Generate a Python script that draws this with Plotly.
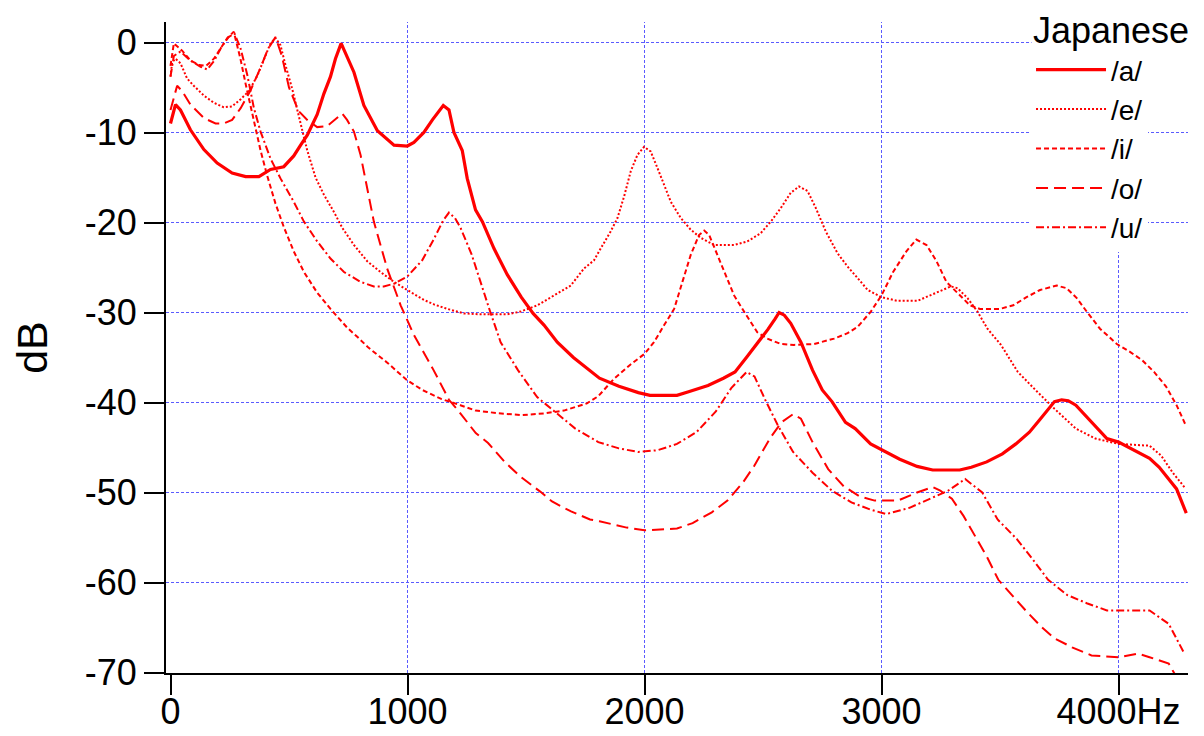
import plotly.graph_objects as go

# /a/ solid
a_hz = [0, 21, 42, 84, 141, 197, 260, 317, 373, 422, 478, 520, 549, 577, 619, 647, 675, 696, 720, 745,
        774, 816, 873, 943, 999, 1027, 1069, 1105, 1151, 1175, 1196, 1231, 1252, 1287, 1316, 1365, 1421, 1480,
        1530, 1576, 1632, 1700, 1760, 1810, 1892, 1974, 2023, 2080, 2137, 2186, 2268, 2333, 2382, 2430, 2480,
        2520, 2551, 2568, 2590, 2617, 2660, 2709, 2750, 2791, 2848, 2889, 2954, 3020, 3077, 3150, 3216, 3330,
        3379, 3444, 3510, 3567, 3624, 3665, 3730, 3760, 3788, 3820, 3886, 3951, 4000, 4065, 4131, 4172, 4245, 4286]
a_db = [-9.0, -6.9, -7.5, -9.7, -11.9, -13.4, -14.5, -14.9, -14.9, -14.1, -13.8, -12.6, -11.4, -10.3, -8.0,
        -5.7, -3.8, -1.8, -0.1, -1.6, -3.3, -7.0, -9.8, -11.4, -11.5, -11.1, -10.0, -8.6, -7.0, -7.5, -10.0,
        -12.0, -15.1, -18.6, -19.9, -22.9, -25.8, -28.3, -30.1, -31.4, -33.3, -35.0, -36.3, -37.3, -38.2, -38.9,
        -39.2, -39.2, -39.2, -38.8, -38.1, -37.3, -36.6, -35.0, -33.3, -31.9, -30.7, -30.0, -30.3, -31.2, -33.3,
        -36.4, -38.6, -39.9, -42.2, -42.9, -44.6, -45.5, -46.3, -47.1, -47.5, -47.5, -47.2, -46.6, -45.7, -44.6,
        -43.3, -42.0, -39.9, -39.7, -39.8, -40.3, -42.2, -44.0, -44.4, -45.3, -46.2, -47.2, -49.6, -52.3]

# /e/ dotted
e_hz = [0, 7, 21, 42, 70, 98, 141, 183, 225, 260, 296, 331, 366, 394, 422, 443, 464, 485, 514, 549, 577, 612,
        647, 689, 725, 774, 830, 886, 943, 999, 1069, 1112, 1168, 1238, 1309, 1421, 1477, 1548, 1618, 1689, 1745,
        1787, 1815, 1857, 1886, 1914, 1942, 1970, 1998, 2026, 2054, 2083, 2111, 2153, 2195, 2237, 2294, 2378,
        2434, 2490, 2533, 2575, 2617, 2652, 2688, 2723, 2765, 2814, 2857, 2900, 2942, 3000, 3066, 3152, 3222,
        3293, 3321, 3363, 3405, 3447, 3504, 3575, 3657, 3730, 3820, 3902, 4000, 4131, 4180, 4229, 4278]
e_db = [-3.8, -2.2, -1.8, -2.3, -4.0, -4.8, -5.9, -6.7, -7.2, -7.1, -6.3, -5.4, -3.7, -1.8, -0.1, 0.5, -0.3,
        -2.5, -5.2, -9.0, -12.0, -15.0, -16.9, -18.8, -20.6, -22.5, -24.3, -25.5, -26.6, -27.5, -28.6, -29.1,
        -29.6, -30.1, -30.2, -30.2, -29.9, -29.2, -28.1, -27.0, -25.1, -24.2, -22.9, -21.0, -19.5, -17.1, -14.3,
        -12.5, -11.6, -12.1, -13.9, -15.8, -17.7, -19.5, -20.8, -21.7, -22.5, -22.5, -22.1, -21.2, -19.9, -18.4,
        -16.7, -16.0, -16.5, -18.4, -21.0, -23.4, -24.9, -26.2, -27.5, -28.3, -28.7, -28.7, -27.9, -27.1, -27.3,
        -28.4, -29.9, -31.8, -33.6, -36.6, -38.8, -40.7, -42.9, -44.0, -44.6, -44.8, -45.9, -47.8, -49.4]

# /i/ short dash
i_hz = [0, 14, 49, 84, 120, 150, 183, 212, 240, 267, 295, 317, 338, 359, 380, 408, 443, 478, 520, 563, 619,
        675, 746, 788, 835, 916, 997, 1062, 1142, 1223, 1288, 1385, 1482, 1580, 1660, 1757, 1805, 1870, 1940,
        2000, 2040, 2083, 2125, 2160, 2195, 2230, 2252, 2273, 2301, 2336, 2378, 2420, 2476, 2518, 2575, 2631,
        2716, 2800, 2857, 2899, 2955, 3000, 3049, 3105, 3147, 3190, 3232, 3274, 3317, 3373, 3415, 3500, 3556,
        3612, 3669, 3739, 3781, 3824, 3866, 3922, 3993, 4050, 4100, 4150, 4200, 4245, 4285]
i_db = [-2.6, -0.1, -0.9, -2.0, -2.5, -2.6, -1.8, -0.6, 0.5, 1.2, -1.8, -4.6, -7.2, -9.6, -12.0, -14.8, -17.9,
        -20.5, -23.2, -25.5, -27.8, -29.6, -31.7, -32.7, -33.9, -35.6, -37.5, -38.6, -39.6, -40.3, -40.9, -41.2,
        -41.4, -41.2, -40.9, -40.1, -39.3, -37.4, -35.8, -34.6, -33.3, -31.4, -29.6, -26.6, -23.6, -21.4, -20.9,
        -21.4, -23.2, -25.5, -28.1, -29.9, -32.2, -32.9, -33.5, -33.6, -33.5, -32.9, -32.3, -31.6, -29.9, -28.1,
        -25.5, -23.2, -21.9, -22.5, -24.3, -26.6, -27.7, -29.2, -29.6, -29.6, -29.2, -28.3, -27.5, -27.0, -27.3,
        -28.4, -29.9, -31.8, -33.5, -34.4, -35.3, -36.6, -38.2, -40.3, -42.6]

# /o/ long dash
o_hz = [0, 28, 49, 84, 141, 190, 225, 260, 296, 338, 380, 410, 443, 470, 500, 540, 577, 619, 660, 700, 725,
        745, 774, 802, 858, 914, 971, 1027, 1110, 1175, 1223, 1288, 1340, 1410, 1475, 1560, 1610, 1660, 1690,
        1770, 1810, 1925, 2000, 2137, 2203, 2284, 2350, 2415, 2464, 2529, 2578, 2627, 2660, 2709, 2775, 2840,
        2905, 2971, 3069, 3150, 3216, 3248, 3297, 3346, 3395, 3444, 3493, 3542, 3608, 3673, 3730, 3804, 3886,
        4000, 4083, 4131, 4212, 4240]
o_db = [-7.5, -4.8, -5.4, -6.9, -8.4, -9.0, -9.0, -8.6, -7.3, -5.3, -2.8, -0.8, 0.6, -1.5, -5.0, -7.6, -8.6,
        -9.4, -9.3, -8.5, -7.9, -8.6, -9.9, -12.5, -19.9, -25.1, -29.2, -32.5, -36.4, -39.7, -41.2, -43.4, -44.5,
        -46.6, -48.2, -49.9, -51.0, -51.7, -52.1, -53.0, -53.2, -53.9, -54.2, -54.0, -53.4, -52.2, -50.9, -48.9,
        -47.0, -44.0, -42.2, -41.3, -41.8, -44.4, -47.4, -49.3, -50.4, -50.9, -50.9, -50.0, -49.4, -49.8, -50.7,
        -52.6, -54.9, -57.1, -59.7, -61.2, -63.1, -64.9, -66.2, -67.2, -68.1, -68.3, -67.9, -68.3, -69.0, -70.3]

# /u/ dash-dot
u_hz = [0, 14, 42, 84, 127, 155, 185, 215, 245, 270, 295, 324, 352, 380, 422, 464, 520, 563, 619, 675, 732,
        802, 858, 900, 943, 999, 1062, 1110, 1150, 1175, 1200, 1224, 1270, 1309, 1350, 1393, 1466, 1547, 1628,
        1708, 1805, 1892, 1974, 2056, 2137, 2219, 2301, 2366, 2431, 2464, 2513, 2562, 2627, 2709, 2791, 2873,
        2954, 3020, 3118, 3216, 3281, 3353, 3425, 3490, 3572, 3640, 3703, 3784, 3866, 3951, 4131, 4212, 4278]
u_db = [-3.8, -1.5, -1.0, -2.0, -2.7, -3.0, -2.0, -0.5, 0.6, 1.0, -0.6, -3.6, -7.3, -9.9, -12.9, -15.1, -17.7,
        -19.9, -22.1, -24.0, -25.5, -26.6, -27.1, -27.1, -26.8, -26.0, -24.2, -21.9, -19.8, -18.9, -19.5, -20.6,
        -23.5, -26.7, -30.0, -33.3, -36.4, -39.4, -41.2, -42.9, -44.4, -45.1, -45.5, -45.3, -44.6, -43.3, -41.0,
        -38.4, -36.6, -37.1, -39.9, -42.5, -45.5, -47.8, -49.8, -51.1, -51.9, -52.4, -51.7, -50.6, -49.8, -48.5,
        -50.0, -53.0, -55.2, -57.5, -59.7, -61.4, -62.3, -63.1, -63.1, -64.6, -67.9]

x_ticks = [0, 1000, 2000, 3000, 4000]
x_ticktext = ['0', '1000', '2000', '3000', '4000Hz']
y_ticks = [0, -10, -20, -30, -40, -50, -60, -70]
y_ticktext = ['0', '-10', '-20', '-30', '-40', '-50', '-60', '-70']
x_grid = [1000, 2000, 3000, 4000]
y_grid = [0, -10, -20, -30, -40, -50, -60]

FONT = 'Arial, Liberation Sans, sans-serif'
RED = '#ff0000'
GRID = '#5a5aff'

vowels = [
    ('/a/', a_hz, a_db, 'solid', 3.2),
    ('/e/', e_hz, e_db, '2px,2px', 2),
    ('/i/', i_hz, i_db, '5px,3px', 2),
    ('/o/', o_hz, o_db, '12px,6px', 2),
    ('/u/', u_hz, u_db, '8px,3px,2px,3px', 2),
]

fig = go.Figure()
for name, hz, db, dash, w in vowels:
    fig.add_trace(go.Scatter(x=hz, y=db, name=name, mode='lines', hoverinfo='skip',
                             line=dict(color=RED, width=w, dash=dash)))

# dotted blue grid, none on the axes themselves
for gx in x_grid:
    fig.add_shape(type='line', xref='x', yref='paper', x0=gx, x1=gx, y0=0, y1=1,
                  line=dict(color=GRID, width=1, dash='3px,2px'), layer='below')
for gy in y_grid:
    fig.add_shape(type='line', xref='paper', yref='y', x0=0, x1=1, y0=gy, y1=gy,
                  line=dict(color=GRID, width=1, dash='3px,2px'), layer='below')

# legend heading as its own text so the entries can sit close under it
fig.add_annotation(text='Japanese', xref='paper', yref='paper', x=0.8464, y=0.9877,
                   xanchor='left', yanchor='middle', showarrow=False, bgcolor='white',
                   font=dict(size=36))

fig.update_layout(
    width=1204, height=736,
    margin=dict(l=166, r=16, t=22, b=63, autoexpand=False),
    paper_bgcolor='white', plot_bgcolor='white',
    font=dict(family=FONT, size=36, color='black'),
    hovermode=False,
    showlegend=True,
    legend=dict(
        x=0.8464, y=0.9647, xanchor='left', yanchor='top',
        bgcolor='white', borderwidth=0,
        font=dict(size=28), itemwidth=70, tracegroupgap=0,
    ),
)
# ranges picked so 10 dB = 90 px and 1000 Hz = 237 px, grid on pixel centres
fig.update_xaxes(range=[-18.99, 4293.25], tickvals=x_ticks, ticktext=x_ticktext, automargin=False,
                 showgrid=False, zeroline=False, showline=True, linecolor='black', linewidth=2,
                 ticks='outside', ticklen=20, tickwidth=2, tickcolor='black', ticklabelstandoff=-14)
fig.update_yaxes(range=[-70.056, 2.278], tickvals=y_ticks, ticktext=y_ticktext, automargin=False,
                 showgrid=False, zeroline=False, showline=True, linecolor='black', linewidth=2,
                 ticks='outside', ticklen=20, tickwidth=2, tickcolor='black',
                 title=dict(text='dB', standoff=24))

# drop the default 8px body margin so the figure fills the window exactly
fig.write_html('out.html', config={'staticPlot': True},
               post_script="document.body.style.margin='0';")
